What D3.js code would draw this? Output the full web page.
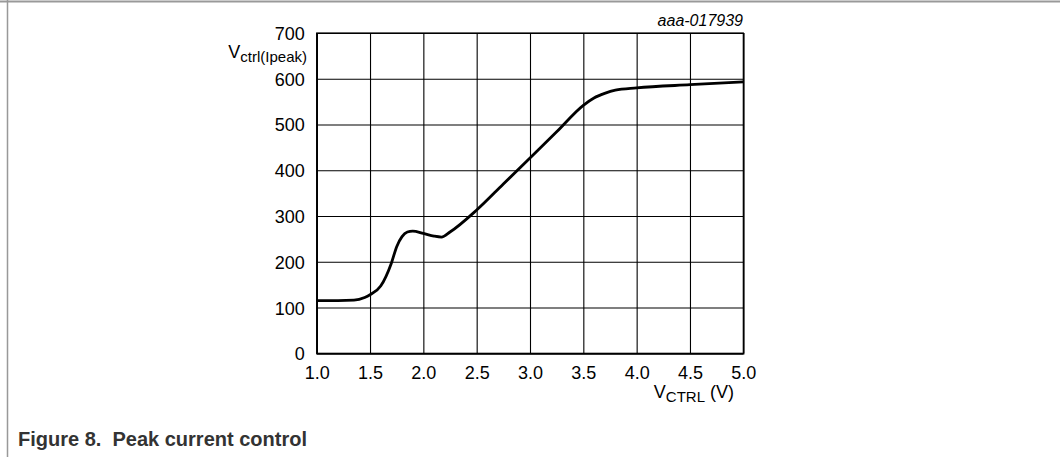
<!DOCTYPE html>
<html>
<head>
<meta charset="utf-8">
<script src="https://cdn.jsdelivr.net/npm/d3@7"></script>
<style>
  body { margin: 0; background: #fff; }
  svg text { font-family: "Liberation Sans", Arial, sans-serif; }
</style>
</head>
<body>
<div id="chart"></div>
<script>
'use strict';

var vctrl = [1.0, 1.2, 1.35, 1.45, 1.5, 1.6, 1.7, 1.75, 1.8, 1.85, 1.9, 2.0, 2.1, 2.17, 2.25, 2.5, 2.75, 3.0, 3.25, 3.5, 3.6, 3.7, 3.8, 4.0, 4.5, 5.0];
var vpeak = [115, 115, 116, 122, 128, 147, 197, 233, 255, 265, 267, 262, 256, 254, 265, 313, 370, 427, 484, 542, 558, 568, 575, 580, 587, 593];

var xTicks = [1.0, 1.5, 2.0, 2.5, 3.0, 3.5, 4.0, 4.5, 5.0];
var yTicks = [0, 100, 200, 300, 400, 500, 600, 700];

var settings = {
    width: 1060,
    height: 457,
    left: 316.7,
    right: 743.3,
    top: 33,
    bottom: 353.3
};

var svg = d3.select('#chart').append('svg')
    .attr('width', settings.width)
    .attr('height', settings.height);

// figure frame
svg.append('line')
    .attr('x1', 0).attr('x2', settings.width)
    .attr('y1', 1.5).attr('y2', 1.5)
    .attr('stroke', '#999').attr('stroke-width', 2);
svg.append('line')
    .attr('x1', 7.5).attr('x2', 7.5)
    .attr('y1', 0).attr('y2', settings.height)
    .attr('stroke', '#999').attr('stroke-width', 1.5);

var x = d3.scaleLinear().domain([1, 5]).range([settings.left, settings.right]);
var y = d3.scaleLinear().domain([0, 700]).range([settings.bottom, settings.top]);

// grid + ticks
var xAxis = svg.append('g')
    .attr('transform', 'translate(0,' + settings.bottom + ')')
    .call(d3.axisBottom(x)
        .tickValues(xTicks)
        .tickFormat(d3.format('.1f'))
        .tickSize(-(settings.bottom - settings.top))
        .tickPadding(13));

var yAxis = svg.append('g')
    .attr('transform', 'translate(' + settings.left + ',0)')
    .call(d3.axisLeft(y)
        .tickValues(yTicks)
        .tickSize(-(settings.right - settings.left))
        .tickPadding(12));

[xAxis, yAxis].forEach(function(g){
    g.attr('font-size', null).attr('font-family', null);
    g.selectAll('.domain').attr('stroke', '#000').attr('stroke-width', 1.2);
    g.selectAll('.tick line').attr('stroke', '#000').attr('stroke-width', 1.1);
    g.selectAll('.tick text')
        .attr('fill', '#000')
        .style('font-size', '18px');
});
xAxis.selectAll('.tick text').attr('dy', '0.71em');
yAxis.selectAll('.tick text').attr('dy', '0.36em');

// top / right border
svg.append('rect')
    .attr('x', settings.left).attr('y', settings.top)
    .attr('width', settings.right - settings.left)
    .attr('height', settings.bottom - settings.top)
    .attr('fill', 'none').attr('stroke', '#000').attr('stroke-width', 1.2);

// curve
var line = d3.line()
    .x(function(d){ return x(d[0]); })
    .y(function(d){ return y(d[1]); })
    .curve(d3.curveMonotoneX);

svg.append('path')
    .datum(vctrl.map(function(v, i){ return [v, vpeak[i]]; }))
    .attr('d', line)
    .attr('fill', 'none')
    .attr('stroke', '#000')
    .attr('stroke-width', 2.8)
    .attr('stroke-linejoin', 'round');

// axis titles
var yTitle = svg.append('text')
    .attr('x', 307).attr('y', 58)
    .attr('text-anchor', 'end')
    .style('font-size', '18px');
yTitle.append('tspan').text('V');
yTitle.append('tspan').attr('dy', 4).style('font-size', '15px').text('ctrl(Ipeak)');

var xTitle = svg.append('text')
    .attr('x', 734).attr('y', 398)
    .attr('text-anchor', 'end')
    .style('font-size', '18px');
xTitle.append('tspan').text('V');
xTitle.append('tspan').attr('dy', 4).style('font-size', '15px').text('CTRL');
xTitle.append('tspan').attr('dy', -4).text(' (V)');

svg.append('text')
    .attr('x', 743).attr('y', 26)
    .attr('text-anchor', 'end')
    .style('font-size', '16px')
    .style('font-style', 'italic')
    .text('aaa-017939');

svg.append('text')
    .attr('x', 18).attr('y', 446)
    .style('font-size', '20px')
    .style('font-weight', 'bold')
    .attr('fill', '#333')
    .style('white-space', 'pre')
    .text('Figure 8.  Peak current control');
</script>
</body>
</html>
